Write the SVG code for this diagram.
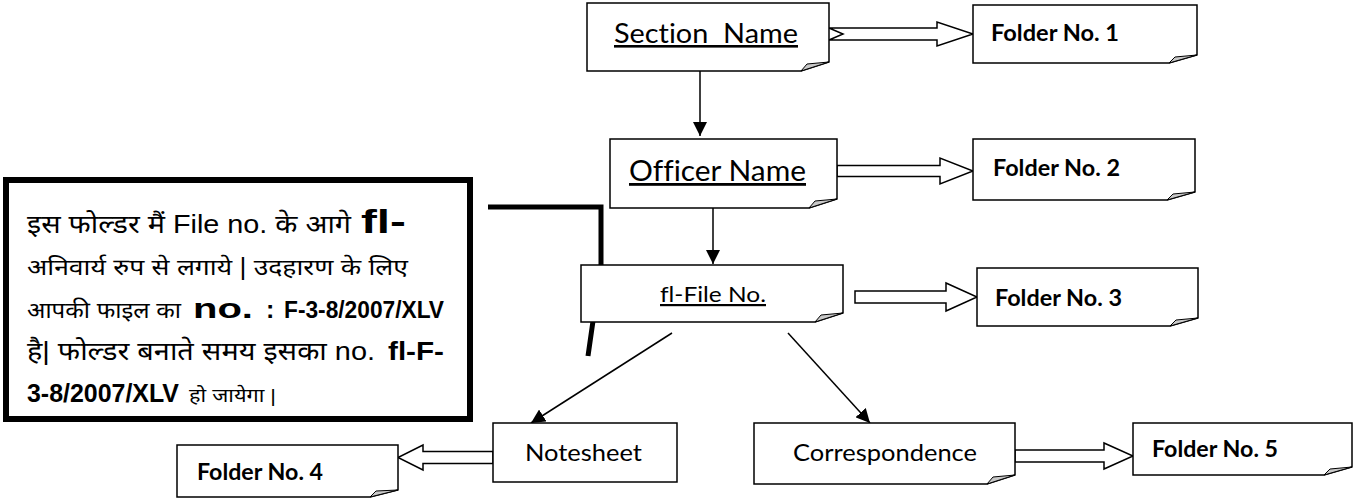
<svg xmlns="http://www.w3.org/2000/svg" width="1354" height="500" viewBox="0 0 1354 500">
<style>
.box{fill:#fff;stroke:#000;stroke-width:1.5}
.curl{fill:#c8c8c8;stroke:#000;stroke-width:1}
.lbl{font-family:Lato,"Open Sans","Liberation Sans",sans-serif;fill:#000;font-variant-ligatures:none}
.fold{font-family:Lato,"Open Sans","Liberation Sans",sans-serif;font-weight:bold;font-size:22px;fill:#000}
.blk{fill:#fff;stroke:#000;stroke-width:1.5;stroke-linejoin:miter}
.ln{stroke:#000;stroke-width:1.5;fill:none}
.hi{font-family:"Liberation Sans","Noto Sans Devanagari","Lohit Devanagari","Noto Sans",sans-serif;fill:#000;font-variant-ligatures:none}
.b{font-weight:bold}
</style>
<defs>
<marker id="ah" viewBox="0 0 14 14" refX="14" refY="7" markerWidth="14" markerHeight="14" markerUnits="userSpaceOnUse" orient="auto">
<path d="M0,0 L14,7 L0,14 Z" fill="#000"/>
</marker>
</defs>

<g id="connectors">
<line class="ln" x1="700" y1="71" x2="700" y2="136" marker-end="url(#ah)"/>
<line class="ln" x1="713" y1="208" x2="713" y2="264" marker-end="url(#ah)"/>
<line class="ln" x1="672" y1="333" x2="531" y2="423" marker-end="url(#ah)"/>
<line class="ln" x1="788" y1="333" x2="870" y2="423" marker-end="url(#ah)"/>
<path class="blk" d="M829,28 H937 V22 L973,34 L937,46 V40 H829 L843,34 Z"/>
<path class="blk" d="M837,165.5 H940 V158 L973,171 L940,184 V176.5 H837 Z"/>
<path class="blk" d="M855,291 H946 V283 L977,297 L946,311 V303 H855 Z"/>
<path class="blk" d="M493,451.5 H423 V445 L398,457.5 L423,470 V463.5 H493 Z"/>
<path class="blk" d="M1015,450 H1104 V443 L1133,456 L1104,469 V462 H1015 Z"/>
<path d="M488,207 H601 V265 L588,356" fill="none" stroke="#000" stroke-width="5"/>
</g>

<g id="section">
<path class="box" d="M587,3 H829 V62 L801,71 H587 Z"/>
<path class="curl" d="M801,71 L807,64 L829,62 Z"/>
<text class="lbl" x="614" y="43" font-size="26" textLength="184" lengthAdjust="spacingAndGlyphs" text-decoration="underline" xml:space="preserve">Section  Name</text>
</g>

<g id="folder1">
<path class="box" d="M973,5 H1197 V55 L1169,63 H973 Z"/>
<path class="curl" d="M1169,63 L1175,57 L1197,55 Z"/>
<text class="fold" x="991" y="41" textLength="128" lengthAdjust="spacingAndGlyphs">Folder No. 1</text>
</g>

<g id="officer">
<path class="box" d="M610,139 H837 V199 L809,208 H610 Z"/>
<path class="curl" d="M809,208 L815,201 L837,199 Z"/>
<text class="lbl" x="629" y="181" font-size="28" textLength="177" lengthAdjust="spacingAndGlyphs" text-decoration="underline">Officer Name</text>
</g>

<g id="folder2">
<path class="box" d="M973,139 H1195 V192 L1167,200 H973 Z"/>
<path class="curl" d="M1167,200 L1173,194 L1195,192 Z"/>
<text class="fold" x="993" y="176" textLength="127" lengthAdjust="spacingAndGlyphs">Folder No. 2</text>
</g>

<g id="filebox">
<path class="box" d="M581,265 H843 V313 L815,322 H581 Z"/>
<path class="curl" d="M815,322 L821,315 L843,313 Z"/>
<text class="lbl" x="660" y="302" font-size="22" textLength="106" lengthAdjust="spacingAndGlyphs" text-decoration="underline">fl-File No.</text>
</g>

<g id="folder3">
<path class="box" d="M977,268 H1198 V318 L1170,326 H977 Z"/>
<path class="curl" d="M1170,326 L1176,320 L1198,318 Z"/>
<text class="fold" x="995" y="306" textLength="127" lengthAdjust="spacingAndGlyphs">Folder No. 3</text>
</g>

<g id="notesheet">
<rect class="box" x="493" y="423" width="184" height="59"/>
<text class="lbl" x="525" y="461" font-size="24" textLength="117" lengthAdjust="spacingAndGlyphs">Notesheet</text>
</g>

<g id="folder4">
<path class="box" d="M177,445 H398 V490 L370,497 H177 Z"/>
<path class="curl" d="M370,497 L376,491 L398,490 Z"/>
<text class="fold" x="197" y="480" textLength="126" lengthAdjust="spacingAndGlyphs">Folder No. 4</text>
</g>

<g id="correspondence">
<path class="box" d="M754,423 H1015 V475 L987,484 H754 Z"/>
<path class="curl" d="M987,484 L993,477 L1015,475 Z"/>
<text class="lbl" x="793" y="461" font-size="24" textLength="184" lengthAdjust="spacingAndGlyphs">Correspondence</text>
</g>

<g id="folder5">
<path class="box" d="M1133,423 H1352 V467 L1324,475 H1133 Z"/>
<path class="curl" d="M1324,475 L1330,469 L1352,467 Z"/>
<text class="fold" x="1152" y="457" textLength="126" lengthAdjust="spacingAndGlyphs">Folder No. 5</text>
</g>

<g id="note">
<rect x="6" y="180" width="464" height="239" fill="#fff" stroke="#000" stroke-width="6"/>
<text class="hi" x="27" y="233" font-size="25" textLength="324" lengthAdjust="spacingAndGlyphs">इस फोल्डर मैं File no. के आगे</text>
<text class="hi b" x="361" y="233" font-size="33" textLength="45" lengthAdjust="spacingAndGlyphs">fl-</text>
<text class="hi" x="27" y="275" font-size="23" textLength="381" lengthAdjust="spacingAndGlyphs">अनिवार्य रुप से लगाये | उदहारण के लिए</text>
<text class="hi" x="27" y="318" font-size="23" textLength="154" lengthAdjust="spacingAndGlyphs">आपकी फाइल का</text>
<text class="hi b" x="193" y="318" font-size="27" textLength="60" lengthAdjust="spacingAndGlyphs">no.</text>
<text class="hi b" x="266" y="318" font-size="25">:</text>
<text class="hi b" x="284" y="318" font-size="24" textLength="160" lengthAdjust="spacingAndGlyphs">F-3-8/2007/XLV</text>
<text class="hi" x="27" y="360" font-size="25" textLength="348" lengthAdjust="spacingAndGlyphs">है| फोल्डर बनाते समय इसका no.</text>
<text class="hi b" x="388" y="360" font-size="25" textLength="56" lengthAdjust="spacingAndGlyphs">fl-F-</text>
<text class="hi b" x="27" y="402" font-size="25" textLength="152" lengthAdjust="spacingAndGlyphs">3-8/2007/XLV</text>
<text class="hi" x="189" y="402" font-size="19" textLength="87" lengthAdjust="spacingAndGlyphs">हो जायेगा |</text>
</g>
</svg>
